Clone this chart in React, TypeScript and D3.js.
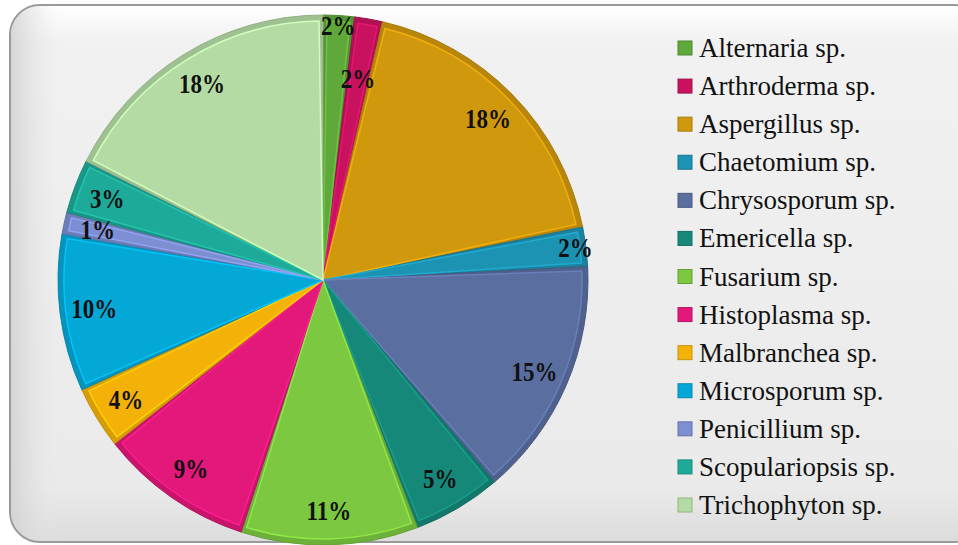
import React, { useEffect } from "react";
import * as d3 from "d3";

// genera and their share of isolates (%)
const genera = [
  "Alternaria sp.",
  "Arthroderma sp.",
  "Aspergillus sp.",
  "Chaetomium sp.",
  "Chrysosporum sp.",
  "Emericella sp.",
  "Fusarium sp.",
  "Histoplasma sp.",
  "Malbranchea sp.",
  "Microsporum sp.",
  "Penicillium sp.",
  "Scopulariopsis sp.",
  "Trichophyton sp.",
];
const shares = [1.9, 1.7, 18.2, 2.4, 14.6, 5.4, 10.8, 9.4, 3.8, 9.6, 1.3, 3.3, 17.6];
const colors = [
  "#5fa93a",
  "#c8125f",
  "#d0980c",
  "#1d93b3",
  "#5a6ea0",
  "#16887a",
  "#7cc840",
  "#e2187a",
  "#f4b208",
  "#04a8d6",
  "#7d8ed2",
  "#1eaa98",
  "#b4dba4",
];

const W = 958;
const H = 545;
const cx = 323;
const cy = 280;
const R = 265;
const serif = "'Liberation Serif', 'Times New Roman', Times, serif";

const App = () => {
  useEffect(() => {
    document.body.style.margin = "0";
  }, []);

  const pie = d3.pie<number>().sort(null).value((d) => d);
  const arcs = pie(shares);
  const outer = d3.arc<d3.PieArcDatum<number>>().innerRadius(0).outerRadius(R);
  const inner = d3
    .arc<d3.PieArcDatum<number>>()
    .innerRadius(0)
    .outerRadius(R - 6)
    .padAngle(0.03)
    .padRadius(R);

  // label distance: thin slices sit near the rim, a thin one after a thin one steps inward
  const labelPos = arcs.map((a, i) => {
    const prev = shares[(i + shares.length - 1) % shares.length];
    let k = 0.87;
    if (a.data < 2.5 && a.data >= 1.5) k = prev < 2.5 ? 0.77 : 0.96;
    const mid = (a.startAngle + a.endAngle) / 2;
    return [Math.sin(mid) * R * k, -Math.cos(mid) * R * k];
  });

  const legendY = d3.scalePoint<string>().domain(genera).range([48, 505]);

  return (
    <svg width={W} height={H} style={{ display: "block" }}>
      <defs>
        <linearGradient id="card" x1="0" y1="0" x2="0" y2="1">
          <stop offset="0" stopColor="#ffffff" />
          <stop offset="0.07" stopColor="#f1f1f1" />
          <stop offset="0.9" stopColor="#eaeaea" />
          <stop offset="1" stopColor="#dcdcdc" />
        </linearGradient>
        <linearGradient id="side" x1="0" y1="0" x2="1" y2="0">
          <stop offset="0" stopColor="#cfcfcf" stopOpacity="0.8" />
          <stop offset="0.05" stopColor="#e8e8e8" stopOpacity="0" />
        </linearGradient>
      </defs>
      <rect x={0} y={0} width={W} height={H} fill="#ffffff" />
      <rect x={10} y={5} width={975} height={537} rx={30} fill="url(#card)" stroke="#9a9a9a" strokeWidth={2} />
      <rect x={11} y={6} width={973} height={535} rx={29} fill="url(#side)" />

      <g transform={`translate(${cx},${cy})`}>
        {arcs.map((a, i) => (
          <path
            key={"o" + i}
            d={outer(a) || ""}
            fill={d3.color(colors[i])!.darker(0.35).toString()}
            stroke={d3.color(colors[i])!.darker(0.6).toString()}
            strokeWidth={1}
          />
        ))}
        {arcs.map((a, i) => (
          <path
            key={"i" + i}
            d={inner(a) || ""}
            fill={colors[i]}
            stroke={d3.color(colors[i])!.brighter(0.4).toString()}
            strokeWidth={1.5}
          />
        ))}
        {arcs.map((a, i) => (
          <g key={"t" + i} transform={`translate(${labelPos[i][0]},${labelPos[i][1]}) scale(1,1.15)`}>
            <text
              textAnchor="middle"
              dominantBaseline="central"
              fontFamily={serif}
              fontWeight="bold"
              fontSize={23}
              fill="#111"
            >
              {Math.round(a.data) + "%"}
            </text>
          </g>
        ))}
      </g>

      <g>
        {genera.map((g, i) => (
          <g key={g} transform={`translate(678,${legendY(g)})`}>
            <rect
              x={0}
              y={-7}
              width={14}
              height={14}
              fill={colors[i]}
              stroke={d3.color(colors[i])!.darker(0.6).toString()}
              strokeWidth={1}
            />
            <text
              x={21}
              y={0}
              dominantBaseline="central"
              fontFamily={serif}
              fontSize={27}
              fill="#111"
            >
              {g}
            </text>
          </g>
        ))}
      </g>
    </svg>
  );
};

export default App;
